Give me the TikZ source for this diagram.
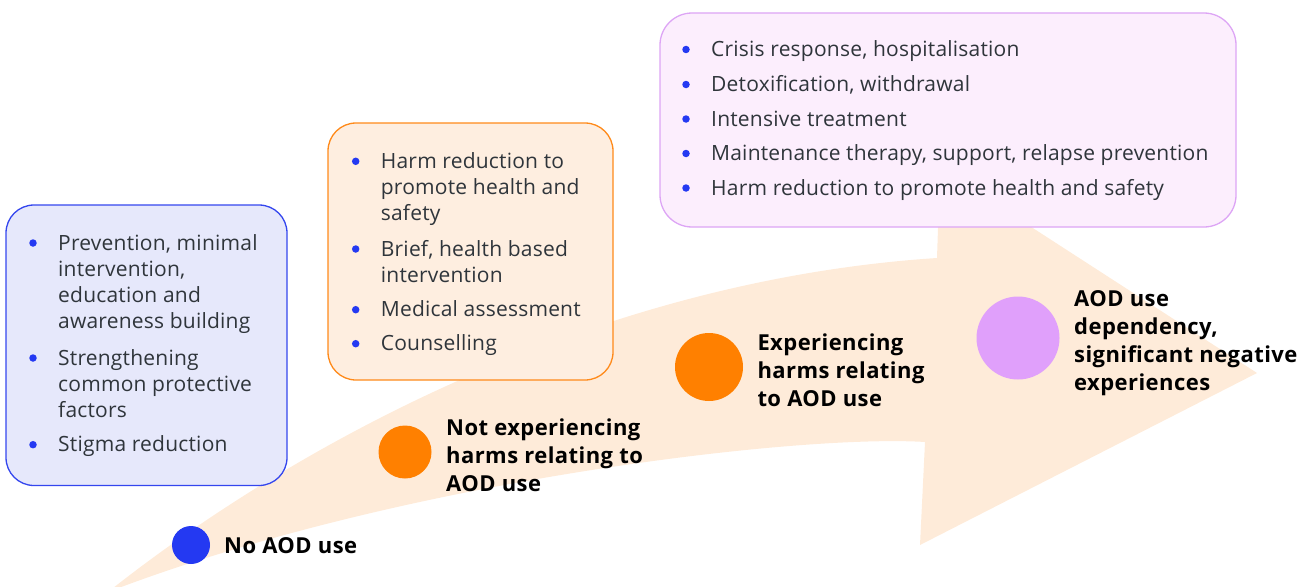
\documentclass[tikz,border=0pt]{standalone}
\usepackage{fontspec}
\setmainfont{Open Sans}
\newfontfamily\itemface{Open Sans}[LetterSpace=1.0]
\newfontfamily\stageface{Open Sans}[LetterSpace=2.0]
\definecolor{arrowfill}{HTML}{FEEBD9}
\definecolor{bluemain}{HTML}{2439F2}
\definecolor{bluebox}{HTML}{E6E8FB}
\definecolor{blueborder}{HTML}{3446EE}
\definecolor{orangemain}{HTML}{FF8000}
\definecolor{orangebox}{HTML}{FEEEE0}
\definecolor{orangeborder}{HTML}{FF8A1A}
\definecolor{purplemain}{HTML}{E0A0FB}
\definecolor{purplebox}{HTML}{FCEEFD}
\definecolor{purpleborder}{HTML}{DDA5F5}
\definecolor{bodygray}{HTML}{2F353B}
\newcommand\itemfnt{\itemface\fontsize{21}{26}\selectfont}
\newcommand\stagefnt{\stageface\fontsize{22}{28}\selectfont\bfseries}
\begin{document}
\begin{tikzpicture}[x=1pt,y=-1pt,
  panel/.style={rounded corners=28pt, line width=1.3pt, inner sep=0pt},
  itemtext/.style={anchor=north west, inner sep=0pt, align=left, text=bodygray, font=\itemfnt},
  dot/.style={circle, fill=bluemain, inner sep=0pt, minimum size=7.5pt},
  stagedot/.style={circle, inner sep=0pt, minimum size=#1},
  stagetext/.style={anchor=north west, inner sep=0pt, align=left, text=black, font=\stagefnt}]
\useasboundingbox (0,0) rectangle (1311,586);

% curved progress arrow in the background
\begin{scope}
\clip (0,0) rectangle (1311,586);
\fill[arrowfill] (108,592) .. controls (300,440) and (600,280) .. (937,258)
  -- (940,168) -- (1257,373) -- (920,545) -- (925,442)
  .. controls (800,434) and (400,480) .. (108,592) -- cycle;
\end{scope}

% service panels
\node[panel, draw=blueborder, fill=bluebox, minimum width=281pt, minimum height=280.5pt] (prevbox) at (146.5,345.25) {};
\node[panel, draw=orangeborder, fill=orangebox, minimum width=285pt, minimum height=257pt] (earlybox) at (470.5,251.5) {};
\node[panel, draw=purpleborder, fill=purplebox, minimum width=576pt, minimum height=214pt, rounded corners=32pt] (treatbox) at (948,120) {};

% prevention panel items
\node[dot] (b1) at (33,243) {};
\node[itemtext] (t1) at (58,231.8) {\strut Prevention, minimal\\intervention,\\education and\\awareness building};
\node[dot] (b2) at (33,358) {};
\node[itemtext] (t2) at (58,346.8) {\strut Strengthening\\common protective\\factors};
\node[dot] (b3) at (33,444.7) {};
\node[itemtext] (t3) at (58,433.5) {\strut Stigma reduction};

% early intervention panel items
\node[dot] (b4) at (355.7,161.3) {};
\node[itemtext] (t4) at (380.7,150.1) {\strut Harm reduction to\\promote health and\\safety};
\node[dot] (b5) at (355.7,249) {};
\node[itemtext] (t5) at (380.7,237.8) {\strut Brief, health based\\intervention};
\node[dot] (b6) at (355.7,309.7) {};
\node[itemtext] (t6) at (380.7,298.5) {\strut Medical assessment};
\node[dot] (b7) at (355.7,343.7) {};
\node[itemtext] (t7) at (380.7,332.5) {\strut Counselling};

% treatment panel items
\node[dot] (b8) at (686,49.5) {};
\node[itemtext] (t8) at (711,38.3) {\strut Crisis response, hospitalisation};
\node[dot] (b9) at (686,84.5) {};
\node[itemtext] (t9) at (711,73.3) {\strut Detoxification, withdrawal};
\node[dot] (b10) at (686,119) {};
\node[itemtext] (t10) at (711,107.8) {\strut Intensive treatment};
\node[dot] (b11) at (686,153.5) {};
\node[itemtext] (t11) at (711,142.3) {\strut Maintenance therapy, support, relapse prevention};
\node[dot] (b12) at (686,188) {};
\node[itemtext] (t12) at (711,176.8) {\strut Harm reduction to promote health and safety};

% stages along the arrow
\node[stagedot=38pt, fill=bluemain] (s1) at (191,545) {};
\node[stagetext] (l1) at (224,533.7) {\strut No AOD use};
\node[stagedot=53pt, fill=orangemain] (s2) at (405,452) {};
\node[stagetext] (l2) at (446,415.4) {\strut Not experiencing\\harms relating to\\AOD use};
\node[stagedot=68pt, fill=orangemain] (s3) at (709,367) {};
\node[stagetext] (l3) at (757.3,330.4) {\strut Experiencing\\harms relating\\to AOD use};
\node[stagedot=83pt, fill=purplemain] (s4) at (1018,338) {};
\node[stagetext] (l4) at (1074,287.1) {\strut AOD use\\dependency,\\significant negative\\experiences};
\end{tikzpicture}
\end{document}
